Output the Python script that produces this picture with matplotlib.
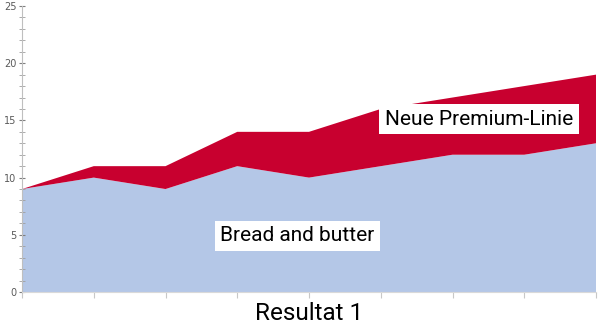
import matplotlib.pyplot as plt
import numpy as np

x = np.arange(9)
bread = [9, 10, 9, 11, 10, 11, 12, 12, 13]
premium = [0, 1, 2, 3, 4, 5, 5, 6, 6]

fig = plt.figure(figsize=(6, 3.27), dpi=100)
ax = fig.add_axes([22 / 600, 1 - 292 / 327, 574 / 600, 286 / 327])

ax.stackplot(x, bread, premium, colors=['#b4c7e7', '#c8002f'], linewidth=0)

ax.set_xlim(0, 8)
ax.set_ylim(0, 25)
ax.set_yticks(range(0, 26, 5))
ax.set_yticks(range(0, 26), minor=True)
ax.set_xticks(x)
ax.set_xticklabels([])
ax.tick_params(axis='y', colors='#7f7f7f', labelsize=7, length=4, width=0.8, direction='inout', pad=2)
ax.tick_params(axis='y', which='minor', colors='#9f9f9f', length=4, width=0.6, direction='inout')
ax.tick_params(axis='x', colors='#c8c8c8', length=4, width=0.8, direction='out')
for lbl in ax.get_yticklabels():
    lbl.set_color('#595959')

for side in ['top', 'right']:
    ax.spines[side].set_visible(False)
ax.spines['left'].set_color('#bfbfbf')
ax.spines['bottom'].set_color('#d9d9d9')

box = dict(facecolor='white', edgecolor='none', pad=4)
ax.text(6.37, 15.1, 'Neue Premium-Linie', fontsize=15, family='Roboto',
        ha='center', va='center', bbox=box)
ax.text(3.84, 4.9, 'Bread and butter', fontsize=15, family='Roboto',
        ha='center', va='center', bbox=box)

fig.text(309 / 600, 1 - 314 / 327, 'Resultat 1', fontsize=17.5, family='Roboto',
         ha='center', va='center')

fig.savefig('out.png', dpi=100)
